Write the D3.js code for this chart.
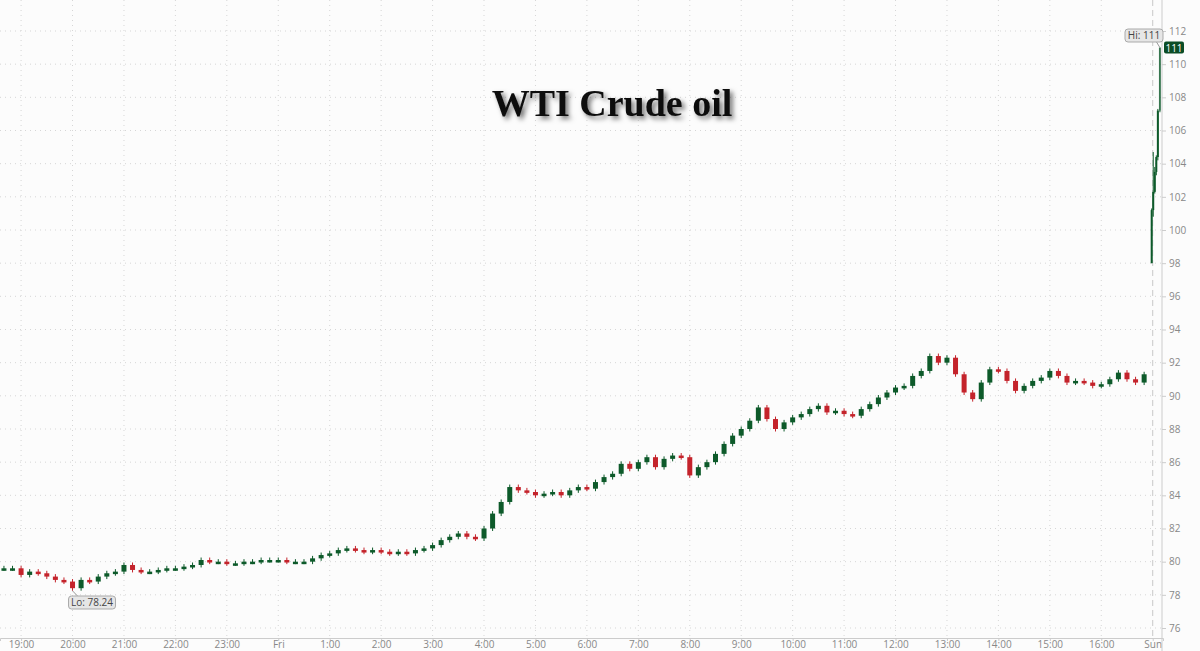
<!DOCTYPE html>
<html><head><meta charset="utf-8">
<script src="https://cdn.jsdelivr.net/npm/d3@7"></script>
<style>body{margin:0;background:#fcfcfc}svg{display:block}</style>
</head><body>
<svg id="c" width="1200" height="651"></svg>
<script>
// hours since 19:00 (Thu); "Sun" session placed at slot 22
const tickHours = d3.range(0, 23);
const tickLabels = ["19:00","20:00","21:00","22:00","23:00","Fri","1:00","2:00","3:00","4:00","5:00","6:00","7:00","8:00","9:00","10:00","11:00","12:00","13:00","14:00","15:00","16:00","Sun"];
const yTicks = d3.range(76, 113, 2);
// 10-minute closes from 18:40 to 16:50
const closes = [79.6,79.6,
79.2,79.4,79.3,79.1,78.9,78.8,
78.4,78.9,78.8,79.1,79.3,79.4,
79.8,79.5,79.4,79.4,79.5,79.6,
79.6,79.7,79.8,80.1,80.0,80.0,
79.9,79.9,80.0,80.0,80.1,80.1,
80.1,80.0,80.0,80.0,80.2,80.4,
80.5,80.7,80.8,80.7,80.6,80.7,
80.6,80.5,80.6,80.5,80.7,80.8,
81.0,81.3,81.5,81.7,81.5,81.4,
82.0,82.9,83.6,84.5,84.3,84.2,
84.0,84.1,84.2,84.0,84.3,84.5,
84.4,84.8,85.1,85.3,85.9,85.6,
86.0,86.3,85.7,86.2,86.4,86.3,
85.2,85.7,86.0,86.5,87.1,87.6,
88.0,88.5,89.3,88.6,88.0,88.4,
88.7,88.9,89.2,89.4,89.0,89.1,
88.9,88.8,89.2,89.5,89.9,90.2,
90.5,90.6,91.2,91.5,92.4,92.0,
92.3,91.3,90.2,89.8,90.8,91.6,
91.5,90.9,90.3,90.6,90.9,91.1,
91.5,91.2,90.8,90.9,90.8,90.6,
90.7,91.0,91.4,91.0,90.8,91.3];
const startHour = -1/3, stepHour = 1/6;
// Sunday reopen candles
const sunHours = [21.98,22.01,22.04,22.07,22.10,22.14];
const sunOpen  = [98.0,101.2,102.3,103.5,104.4,107.2];
const sunClose = [101.2,102.3,103.5,104.4,107.2,111.0];
const sunHigh  = [101.3,104.7,103.8,104.5,107.3,111.0];
const sunLow   = [98.0,100.8,102.2,103.3,104.2,107.1];
const loVal = 78.24, hiVal = 111;

const svg = d3.select("#c");
const x = d3.scaleLinear().domain([-0.41, 22.2]).range([0, 1163]);
const y = d3.scaleLinear().domain([76, 112]).range([628, 31]);
const font = "'Open Sans', sans-serif";

// grid
svg.append("g").selectAll("line").data(yTicks).join("line")
  .attr("x1",0).attr("x2",1162).attr("y1",d=>y(d)).attr("y2",d=>y(d))
  .attr("stroke","#d6d6d6").attr("stroke-dasharray","1,4");
svg.append("g").selectAll("line").data(tickHours.slice(0,-1)).join("line")
  .attr("x1",d=>x(d)).attr("x2",d=>x(d)).attr("y1",0).attr("y2",638)
  .attr("stroke","#d6d6d6").attr("stroke-dasharray","1,4");
svg.append("line").attr("x1",x(22)).attr("x2",x(22)).attr("y1",0).attr("y2",638)
  .attr("stroke","#c8c8c8").attr("stroke-dasharray","6,4");

// axes
const xa = svg.append("g").attr("transform","translate(0,638)")
  .call(d3.axisBottom(x).tickValues(tickHours).tickFormat((d,i)=>tickLabels[i]).tickSize(3).tickPadding(1));
xa.select(".domain").attr("stroke","#ccc");
xa.selectAll(".tick line").attr("stroke","#ccc");
xa.selectAll("text").attr("fill","#888").style("font-family",font).style("font-size","10px").attr("dy","0.6em");
const ya = svg.append("g").attr("transform","translate(1162,0)")
  .call(d3.axisRight(y).tickValues(yTicks).tickSize(4));
ya.select(".domain").attr("stroke","#ccc").attr("d","M0,0V651");
ya.selectAll(".tick line").attr("stroke","#ccc");
ya.selectAll("text").attr("fill","#888").style("font-family",font).style("font-size","10px");

// candles
const candles = closes.map((c,i)=>{
  const o = i===0 ? c : closes[i-1];
  return {h: startHour + i*stepHour, o, c, hi: Math.max(o,c)+0.15, lo: Math.min(o,c)-0.15};
});
sunHours.forEach((h,i)=>candles.push({h,o:sunOpen[i],c:sunClose[i],hi:sunHigh[i],lo:sunLow[i],sun:true}));
const up="#0d5a2a", dn="#c4232b";
const g = svg.append("g");
g.selectAll("line").data(candles).join("line")
  .attr("x1",d=>x(d.h)).attr("x2",d=>x(d.h)).attr("y1",d=>y(d.hi)).attr("y2",d=>y(d.lo))
  .attr("stroke",d=>d.c>=d.o?up:dn).attr("stroke-width",1);
g.selectAll("rect").data(candles).join("rect")
  .attr("x",d=>x(d.h)-(d.sun?1:2.5)).attr("width",d=>d.sun?2:5)
  .attr("y",d=>y(Math.max(d.o,d.c))).attr("height",d=>Math.max(2.5,Math.abs(y(d.o)-y(d.c))))
  .attr("fill",d=>d.c>=d.o?up:dn).attr("opacity",(d,i)=>i===candles.length-1?0.55:1);

// Lo / Hi labels
function tag(cx, cy, text, w){
  const t = svg.append("g");
  t.append("rect").attr("x",cx).attr("y",cy).attr("width",w).attr("height",13).attr("rx",3)
    .attr("fill","#e6e6e6").attr("stroke","#aaa");
  t.append("text").attr("x",cx+w/2).attr("y",cy+10).attr("text-anchor","middle")
    .attr("fill","#444").style("font-family",font).style("font-size","10px").text(text);
}
const loI = 8;
svg.append("line").attr("x1",x(candles[loI].h)).attr("y1",y(loVal)).attr("x2",x(candles[loI].h)+6).attr("y2",597).attr("stroke","#999");
tag(x(candles[loI].h)-4, 596, "Lo: " + loVal, 47);
svg.append("line").attr("x1",x(sunHours[5])).attr("y1",y(hiVal)).attr("x2",x(sunHours[5])-4).attr("y2",41).attr("stroke","#999");
tag(1125, 29, "Hi: " + hiVal, 38);
// last price marker
svg.append("rect").attr("x",1164).attr("y",y(hiVal)-6).attr("width",20).attr("height",12).attr("rx",2).attr("fill","#0b4d26");
svg.append("text").attr("x",1174).attr("y",y(hiVal)+4).attr("text-anchor","middle").attr("fill","#fff")
  .style("font-family",font).style("font-size","10px").text(hiVal);

// title
const defs = svg.append("defs");
const f = defs.append("filter").attr("id","sh").attr("x","-10%").attr("y","-30%").attr("width","120%").attr("height","160%");
f.append("feDropShadow").attr("dx",3).attr("dy",3).attr("stdDeviation",2.5).attr("flood-color","#000").attr("flood-opacity",0.55);
svg.append("text").attr("x",612).attr("y",116).attr("text-anchor","middle").attr("filter","url(#sh)")
  .style("font-family","'Liberation Serif', serif").style("font-weight","bold").style("font-size","38px")
  .attr("fill","#111").text("WTI Crude oil");
</script>
</body></html>
